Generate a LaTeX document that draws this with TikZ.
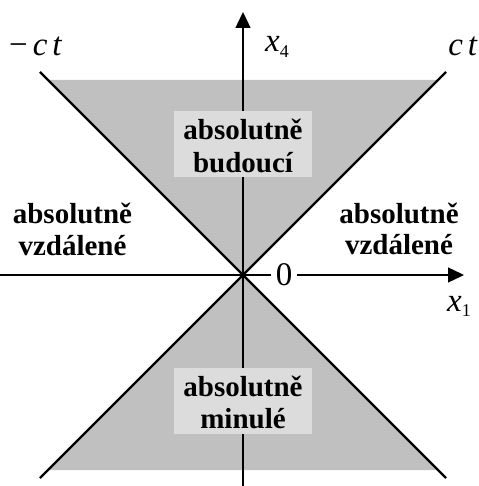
\documentclass[tikz,border=0pt]{standalone}
\usepackage{fontspec}
\setmainfont{Liberation Serif}
\usetikzlibrary{arrows.meta}
\definecolor{conegray}{HTML}{C0C0C0}
\definecolor{boxgray}{HTML}{DCDCDC}
\newcommand{\subidx}[2]{\textit{#1}\raisebox{-5.5pt}{\fontsize{18}{18}\selectfont #2}}
\begin{document}
\begin{tikzpicture}[x=1pt,y=-1pt,
  axis/.style={line width=1.4pt,-{Triangle[length=16pt,width=15pt]}},
  coneline/.style={line width=2.4pt},
  regionbox/.style={fill=boxgray,minimum width=138pt,minimum height=66pt,inner sep=0pt},
  regionline/.style={inner sep=0pt,anchor=base,font=\fontsize{29}{33}\selectfont\bfseries},
  axlabel/.style={inner sep=0pt,font=\fontsize{33}{34}\selectfont}]
\useasboundingbox (0,0) rectangle (478,486);
% key points
\coordinate (O) at (243,275);
\coordinate (UL) at (40,72);
\coordinate (UR) at (446,72);
\coordinate (LL) at (40,478);
\coordinate (LR) at (446,478);
\coordinate (Xs) at (0,275);
\coordinate (Xe) at (464,275);
\coordinate (Ys) at (243,486);
\coordinate (Ye) at (243,12);
% cones
\fill[conegray] (O) -- (48,80) -- (438,80) -- cycle;
\fill[conegray] (O) -- (48,470) -- (438,470) -- cycle;
% axes
\draw[axis] (Xs) -- (Xe);
\draw[axis] (Ys) -- (Ye);
% light cone lines
\draw[coneline] (UL) -- (LR);
\draw[coneline] (UR) -- (LL);
% zero label
\node[fill=white,inner xsep=5pt,inner ysep=2pt,font=\fontsize{33}{33}\selectfont] (zero) at (284,275) {0};
% region boxes
\node[regionbox] (future) at (243,144) {};
\node[regionline] (future1) at (243,140) {absolutně};
\node[regionline] (future2) at (243,172) {budoucí};
\node[regionbox] (past) at (243,400.5) {};
\node[regionline] (past1) at (243,396) {absolutně};
\node[regionline] (past2) at (243,428) {minulé};
\node[regionline] (left1) at (72.5,223) {absolutně};
\node[regionline] (left2) at (72.5,255) {vzdálené};
\node[regionline] (right1) at (399,223) {absolutně};
\node[regionline] (right2) at (399,254) {vzdálené};
% axis labels
\node[axlabel,anchor=base west] (x4) at (265,52) {\subidx{x}{4}};
\node[axlabel,anchor=base west] (x1) at (447,311) {\subidx{x}{1}};
\node[axlabel,anchor=base west] (mct) at (9,56) {−\hspace{5pt}\textit{c}\hspace{5pt}\textit{t}};
\node[axlabel,anchor=base east] (ct) at (478,56) {\textit{c}\hspace{5pt}\textit{t}};
\end{tikzpicture}
\end{document}
